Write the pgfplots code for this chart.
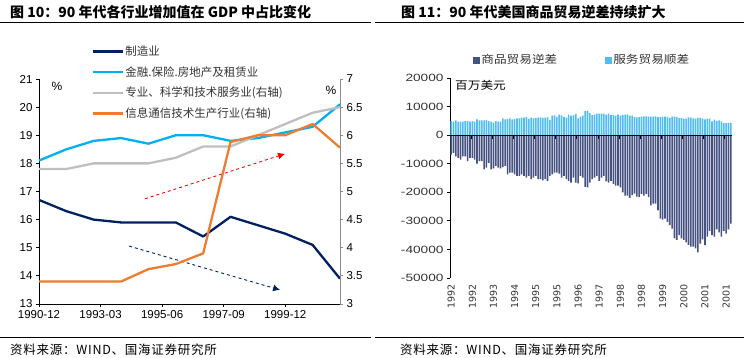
\documentclass[border=0pt]{standalone}
\usepackage{fontspec}
\usepackage{pgfplots}
\usepackage{pgfplotstable}
\pgfplotsset{compat=1.18}
\usetikzlibrary{arrows.meta}
\setmainfont{Liberation Sans}
\newfontfamily\cjk{Noto Sans CJK SC}
\newfontfamily\cjksrc{Noto Sans CJK SC}[LetterSpace=6]
\newfontfamily\cjkwide{Noto Sans CJK SC}[FakeStretch=1.15]
\newfontfamily\widenum{Liberation Sans}[FakeStretch=1.3]
\newfontfamily\dv{DejaVu Sans}
\definecolor{navy}{HTML}{002060}
\definecolor{skyb}{HTML}{00B0F0}
\definecolor{lgray}{HTML}{BFBFBF}
\definecolor{orng}{HTML}{ED7D31}
\definecolor{barnavy}{RGB}{70,82,130}
\definecolor{barblue}{RGB}{80,188,240}

\pgfplotstableread{
i g s
0 -6800 4900
1 -6200 4700
2 -7400 5200
3 -8000 4700
4 -8600 4700
5 -7400 4700
6 -7400 4900
7 -9100 4900
8 -8000 4700
9 -8000 4900
10 -8600 4700
11 -10000 5500
12 -9100 5200
13 -9100 5200
14 -12000 5200
15 -11400 5300
16 -9700 4900
17 -12000 4700
18 -11600 4400
19 -10800 4900
20 -11400 4700
21 -11600 4700
22 -11200 5900
23 -10800 5500
24 -13700 5600
25 -13100 5900
26 -13100 5500
27 -13700 5600
28 -14300 5900
29 -14300 5900
30 -13700 6100
31 -14300 6100
32 -14900 6300
33 -14300 5700
34 -15400 6100
35 -14900 5900
36 -14300 6000
37 -15400 6100
38 -15400 6200
39 -15800 6000
40 -15400 6100
41 -16000 6200
42 -14300 5300
43 -13700 6800
44 -13100 6900
45 -13100 6400
46 -13500 7200
47 -14900 6900
48 -14300 6400
49 -15400 6100
50 -16000 7200
51 -16600 6800
52 -14900 6900
53 -16600 7400
54 -16900 5900
55 -14300 6400
56 -14900 6800
57 -18100 8400
58 -18300 8500
59 -16600 7800
60 -15400 7000
61 -14900 7200
62 -14300 7500
63 -16000 7500
64 -14900 7500
65 -14300 7500
66 -16200 7200
67 -16600 7500
68 -16000 7000
69 -17100 7000
70 -17700 6800
71 -17700 7200
72 -18300 6800
73 -20000 7000
74 -21200 7200
75 -21200 7300
76 -22000 6800
77 -21000 6800
78 -20500 6300
79 -21500 6200
80 -21700 6300
81 -20600 6500
82 -21200 6600
83 -20600 6600
84 -21700 6500
85 -24600 6500
86 -24000 6500
87 -24000 6600
88 -26300 6300
89 -29200 6300
90 -29600 6500
91 -29200 6500
92 -30400 6300
93 -31500 6000
94 -32700 6500
95 -36100 6500
96 -36700 6400
97 -35000 6000
98 -36100 6000
99 -36700 5800
100 -37500 5800
101 -38400 6200
102 -39000 6100
103 -39000 5900
104 -39600 5800
105 -41000 6000
106 -38000 6000
107 -36500 5800
108 -38500 5500
109 -35500 5800
110 -33500 5800
111 -35000 4800
112 -35500 5400
113 -33000 5000
114 -34000 5200
115 -35500 4800
116 -33500 4300
117 -34500 4200
118 -33000 4300
119 -31000 4300
}\tradedata

\begin{document}
\begin{tikzpicture}[x=1pt,y=1pt]
\path[use as bounding box] (0,0) rectangle (744,358);
% titles and rules
\node[anchor=west, inner sep=0] at (10,346) {\cjk\bfseries\fontsize{14}{14}\selectfont 图 10：90 年代各行业增加值在 GDP 中占比变化};
\node[anchor=west, inner sep=0] at (401,346) {\cjk\bfseries\fontsize{14}{14}\selectfont 图 11：90 年代美国商品贸易逆差持续扩大};
\draw[line width=0.9pt] (0,336) -- (371,336);
\draw[line width=0.9pt] (375,336) -- (744,336);
\draw[line width=0.9pt] (0,21) -- (371,21);
\draw[line width=0.9pt] (375,21) -- (744,21);
\node[anchor=west, inner sep=0] at (10,8) {\cjksrc\fontsize{12.5}{12.5}\selectfont 资料来源：WIND、国海证券研究所};
\node[anchor=west, inner sep=0] at (400,8) {\cjksrc\fontsize{12.5}{12.5}\selectfont 资料来源：WIND、国海证券研究所};

% ---------- left chart, left axis ----------
\begin{axis}[
  at={(39pt,54pt)}, anchor=south west, scale only axis,
  width=301pt, height=225pt,
  xmin=0, xmax=11, ymin=13, ymax=21,
  axis y line*=left, axis x line*=bottom,
  axis line style={line width=0.8pt, black},
  xtick={0,2.25,4.5,6.75,9},
  xticklabels={1990-12,1993-03,1995-06,1997-09,1999-12},
  ytick={13,14,15,16,17,18,19,20,21},
  yticklabels={13,14,15,16,17,18,19,20,21},
  tick align=outside, major tick length=3pt,
  tick style={black, line width=0.8pt},
  ticklabel style={font=\fontsize{11.5}{12}\selectfont},
  clip=false,
]
\addplot[skyb, line width=2.3pt, line join=round] coordinates {(0,18.1)(1,18.5)(2,18.8)(3,18.9)(4,18.7)(5,19.0)(6,19.0)(7,18.8)(8,18.9)(9,19.1)(10,19.3)(11,20.1)};
\addplot[navy, line width=2.3pt, line join=round] coordinates {(0,16.7)(1,16.3)(2,16.0)(3,15.9)(4,15.9)(5,15.9)(6,15.4)(7,16.1)(8,15.8)(9,15.5)(10,15.1)(11,13.9)};
\draw[red, dashed, line width=0.9pt, -{Latex[length=7pt,width=7pt]}] (axis cs:3.87,16.74) -- (axis cs:8.99,18.34);
\draw[navy, dashed, line width=0.9pt, -{Latex[length=7pt,width=7pt]}] (axis cs:3.29,15.06) -- (axis cs:8.81,13.5);
\end{axis}

% ---------- left chart, right axis ----------
\begin{axis}[
  at={(39pt,54pt)}, anchor=south west, scale only axis,
  width=301pt, height=225pt,
  xmin=0, xmax=11, ymin=3, ymax=7,
  axis y line*=right, axis x line=none,
  y axis line style={line width=0.8pt, black!45},
  ytick={3,3.5,4,4.5,5,5.5,6,6.5,7},
  yticklabels={3,3.5,4,4.5,5,5.5,6,6.5,7},
  tick align=outside, major tick length=3pt,
  tick style={black!45, line width=0.8pt},
  ticklabel style={font=\fontsize{11.5}{12}\selectfont},
  clip=false,
  legend image code/.code={\draw[#1] (0pt,0pt) -- (30pt,0pt);},
  legend cell align=left,
  legend style={at={(0.163,1.164)}, anchor=north west, draw=none, fill=none,
    font=\cjk\fontsize{11.5}{12}\selectfont, text=black!80,
    row sep=6.5pt, nodes={inner sep=1.5pt}},
]
\addlegendimage{navy, line width=2.6pt}
\addlegendentry{制造业}
\addlegendimage{skyb, line width=2.6pt}
\addlegendentry{金融.保险.房地产及租赁业}
\addplot[lgray, line width=2.3pt, line join=round] coordinates {(0,5.4)(1,5.4)(2,5.5)(3,5.5)(4,5.5)(5,5.6)(6,5.8)(7,5.8)(8,6.0)(9,6.2)(10,6.4)(11,6.5)};
\addlegendentry{专业、科学和技术服务业(右轴)}
\addplot[orng, line width=2.3pt, line join=round] coordinates {(0,3.4)(1,3.4)(2,3.4)(3,3.4)(4,3.62)(5,3.71)(6,3.9)(7,5.88)(8,6.0)(9,6.0)(10,6.2)(11,5.78)};
\addlegendentry{信息通信技术生产行业(右轴)}
\end{axis}
\node[anchor=center] at (57,272) {\fontsize{12}{12}\selectfont \%};
\node[anchor=center] at (331,268) {\fontsize{12}{12}\selectfont \%};

% ---------- right chart ----------
\begin{axis}[
  at={(450pt,80pt)}, anchor=south west, scale only axis,
  width=282pt, height=200pt,
  xmin=-0.5, xmax=119.5, ymin=-50000, ymax=20000,
  scaled y ticks=false, scaled x ticks=false,
  axis y line*=left, axis x line*=bottom,
  x axis line style={draw=none},
  y axis line style={line width=0.9pt, black},
  ytick={-50000,-40000,-30000,-20000,-10000,0,10000,20000},
  yticklabels={-50000,-40000,-30000,-20000,-10000,0,10000,20000},
  yticklabel style={font=\widenum\fontsize{10.5}{11}\selectfont, text=black!80},
  xtick={0,9,18,27,36,45,54,63,72,81,90,99,108,117},
  xticklabels={1992,1992,1993,1994,1995,1995,1996,1997,1998,1998,1999,2000,2001,2001},
  xticklabel style={rotate=90, anchor=east, font=\dv\fontsize{9.5}{10}\selectfont, text=black!80},
  x tick style={draw=none},
  y tick style={black, line width=0.8pt},
  tick align=outside, major tick length=3pt,
  ybar, bar width=1.6pt,
  clip=false,
  legend columns=2,
  legend image code/.code={\fill[#1] (0pt,-3.5pt) rectangle (7pt,3.5pt);},
  legend style={at={(0.07,1.09)}, anchor=west, draw=none, fill=none,
    font=\cjkwide\fontsize{11}{11}\selectfont, text=black!80,
    /tikz/every even column/.append style={column sep=46pt}, nodes={inner sep=1.5pt}},
]
\addplot[fill=barnavy, draw=none, bar shift=0pt] table[x=i, y=g] {\tradedata};
\addlegendentry{商品贸易逆差}
\addplot[fill=barblue, draw=none, bar shift=0pt] table[x=i, y=s] {\tradedata};
\addlegendentry{服务贸易顺差}
\draw[black, line width=1.2pt] (axis cs:-0.5,0) -- (axis cs:119.5,0);
\pgfplotsinvokeforeach{8.5,17.5,26.5,35.5,44.5,53.5,62.5,71.5,80.5,89.5,98.5,107.5,116.5}{
  \draw[black, line width=1pt] (axis cs:#1,0) -- ++(0pt,-4pt);
}
\end{axis}
\node[anchor=west, inner sep=0] at (455,273) {\cjkwide\fontsize{11}{11}\selectfont 百万美元};
\end{tikzpicture}
\end{document}
